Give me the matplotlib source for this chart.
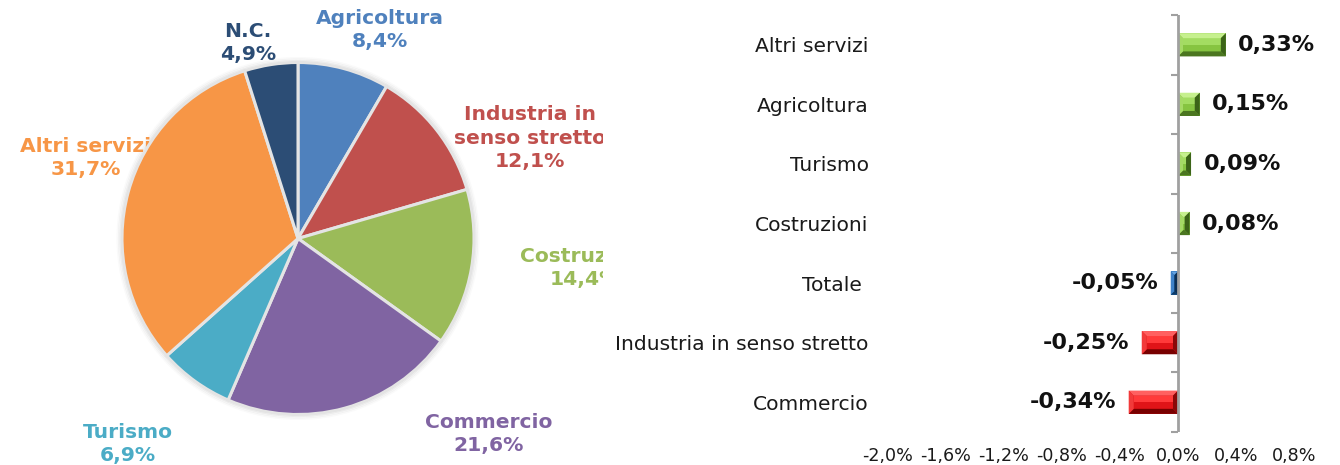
import matplotlib
matplotlib.use("Agg")
import matplotlib.pyplot as plt
from matplotlib.patches import Polygon, Circle
from matplotlib.transforms import IdentityTransform

# ---- data -------------------------------------------------------------
pie_sectors = ["Agricoltura", "Industria in\nsenso stretto", "Costruzioni",
               "Commercio", "Turismo", "Altri servizi", "N.C."]
pie_shares = [8.4, 12.1, 14.4, 21.6, 6.9, 31.7, 4.9]
pie_colors = ["#4F81BD", "#C0504D", "#9BBB59", "#8064A2",
              "#4BACC6", "#F79646", "#2C4D75"]

bar_sectors = ["Altri servizi", "Agricoltura", "Turismo", "Costruzioni",
               "Totale ", "Industria in senso stretto", "Commercio"]
bar_changes = [0.33, 0.15, 0.09, 0.08, -0.05, -0.25, -0.34]
x_ticks = [-2.0, -1.6, -1.2, -0.8, -0.4, 0.0, 0.4, 0.8]

W, H = 1340, 465
fig = plt.figure(figsize=(W / 100, H / 100), dpi=100)
fig.patch.set_facecolor("white")


def fmt_pct(v, nd):
    return f"{v:.{nd}f}%".replace(".", ",")


# ---- left: pie chart ----------------------------------------------------
PIE_W = 603
pax = fig.add_axes([0, 0, PIE_W / W, 1])
cx, cy, r = 298, H - 238.5, 176

# soft shadow ring around the pie
for i, a in enumerate([0.10, 0.07, 0.04]):
    pax.add_patch(Circle((cx, cy), r + 1.5 + 1.5 * i, facecolor="none",
                         edgecolor="#808080", lw=1.5, alpha=a, zorder=1.5))

wedges, _ = pax.pie(pie_shares, colors=pie_colors, startangle=90,
                    counterclock=False, center=(cx, cy), radius=r,
                    wedgeprops=dict(edgecolor="#E4E4E4", linewidth=2.2))
for w in wedges:
    w.set_zorder(3)
pax.set_xlim(0, PIE_W)
pax.set_ylim(0, H)
pax.set_aspect("equal")
pax.axis("off")

# label anchors in pixels (centre x, centre y of first line)
label_pos = [(380, 19), (530, 115), (585, 257), (489, 423),
             (128, 432), (86, 146), (248, 32)]
line_h = 23
for name, share, col, (lx, ly) in zip(pie_sectors, pie_shares, pie_colors, label_pos):
    lines = name.split("\n") + [fmt_pct(share, 1)]
    for k, line in enumerate(lines):
        pax.text(lx, H - (ly + k * line_h), line, ha="center", va="center",
                 color=col, fontsize=14.6, fontweight="bold", zorder=2,
                 clip_on=True)

# ---- right: horizontal bar chart ----------------------------------------
x0_px, x1_px = 888, 1294
top_px, bot_px = 15, 432
bax = fig.add_axes([x0_px / W, (H - bot_px) / H, (x1_px - x0_px) / W,
                    (bot_px - top_px) / H])
ypos = list(range(len(bar_sectors)))
face = {"pos": "#86C441", "neg": "#E01418", "tot": "#1E66AE"}
bars = bax.barh(ypos, bar_changes, height=0.39, zorder=3,
                color=[face["tot"] if s.strip() == "Totale" else
                       (face["pos"] if v > 0 else face["neg"])
                       for s, v in zip(bar_sectors, bar_changes)])
bax.set_xlim(x_ticks[0], x_ticks[-1])
bax.set_ylim(len(bar_sectors) - 0.5, -0.5)
bax.set_yticks(ypos)
bax.set_yticklabels(bar_sectors, fontsize=14.6, color="#1A1A1A")
bax.tick_params(axis="y", length=0, pad=14)
bax.set_xticks(x_ticks)
bax.set_xticklabels([fmt_pct(t, 1) for t in x_ticks], fontsize=12.6,
                    color="#1A1A1A")
bax.tick_params(axis="x", length=0, pad=11)
for sp in bax.spines.values():
    sp.set_visible(False)

# zero axis with category-boundary ticks
bax.axvline(0, color="#A0A0A0", lw=2, zorder=4)
bounds = [i - 0.5 for i in range(len(bar_sectors) + 1)]
bax.plot([0] * len(bounds), bounds, linestyle="none", marker=0,
         markersize=5, markeredgewidth=1.5, color="#A0A0A0", zorder=4,
         clip_on=False)

# value labels
for yv, v in zip(ypos, bar_changes):
    bax.annotate(fmt_pct(v, 2), (v, yv), xytext=(9 if v > 0 else -9, 0),
                 textcoords="offset points", ha="left" if v > 0 else "right",
                 va="center", fontsize=16, fontweight="bold", color="#111111")

# bevelled look on each bar: (top, bottom, left, right, highlight)
shade = {
    "pos": ("#C6F08E", "#4B7620", "#A5DA66", "#3C6418", "#A3DC62"),
    "neg": ("#FF6060", "#780000", "#F23A3A", "#8A0808", "#FF3A3A"),
    "tot": ("#66A3E0", "#0E3A66", "#3F82C8", "#0B2F55", "#3A84CC"),
}
fig.canvas.draw()
for bar, s, v in zip(bars, bar_sectors, bar_changes):
    key = "tot" if s.strip() == "Totale" else ("pos" if v > 0 else "neg")
    top_c, bot_c, left_c, right_c, hi_c = shade[key]
    bb = bar.get_window_extent()
    a0, b0, a1, b1 = bb.x0, bb.y0, bb.x1, bb.y1
    b = min(5.0, (a1 - a0) / 2.0)
    mid = (b0 + b1) / 2.0
    polys = [
        # lighter upper half of the face
        ([(a0 + b, mid), (a1 - b, mid), (a1 - b, b1 - b), (a0 + b, b1 - b)], hi_c),
        ([(a0, b1), (a1, b1), (a1 - b, b1 - b), (a0 + b, b1 - b)], top_c),
        ([(a0, b0), (a1, b0), (a1 - b, b0 + b), (a0 + b, b0 + b)], bot_c),
        ([(a0, b0), (a0 + b, b0 + b), (a0 + b, b1 - b), (a0, b1)], left_c),
        ([(a1, b0), (a1 - b, b0 + b), (a1 - b, b1 - b), (a1, b1)], right_c),
    ]
    for pts, c in polys:
        bax.add_patch(Polygon(pts, closed=True, facecolor=c, edgecolor="none",
                              transform=IdentityTransform(), zorder=3.5,
                              clip_on=False))

fig.savefig("out.png", dpi=100, facecolor="white")
